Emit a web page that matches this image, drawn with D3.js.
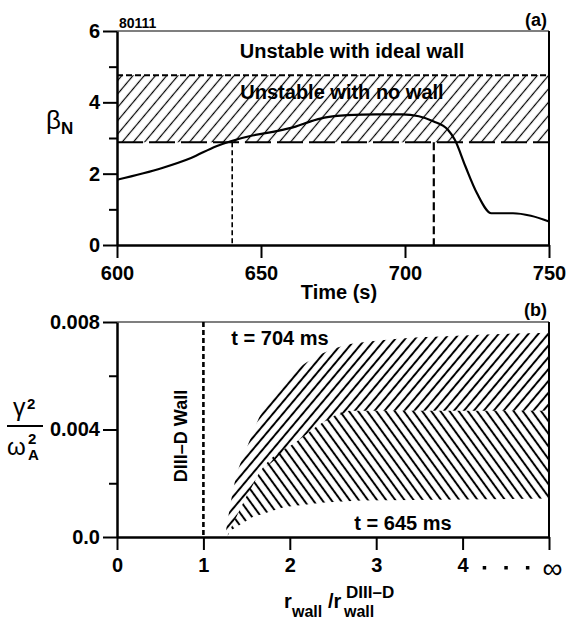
<!DOCTYPE html>
<html>
<head>
<meta charset="utf-8">
<style>
  body { margin: 0; background: #fff; }
  text { font-family: "Liberation Sans", Arial, sans-serif; font-weight: bold; fill: #000; }
</style>
</head>
<body>
<script src="https://cdn.jsdelivr.net/npm/d3@7"></script>
<script>
// ---- panel (a): beta_N vs time, shot 80111
var timeA = [600, 615.7, 625.7, 634.5, 639.5, 647, 654.6, 662, 667, 672, 680, 690, 699, 704.8, 709.8, 714.9, 717.3, 721, 725, 730, 737.5, 743.7, 750];
var betaA = [1.83, 2.16, 2.44, 2.77, 2.91, 3.07, 3.18, 3.32, 3.46, 3.57, 3.64, 3.66, 3.66, 3.61, 3.47, 3.23, 2.95, 2.2, 1.45, 0.89, 0.89, 0.82, 0.66];
var noWallLimit = 2.88;
var idealWallLimit = 4.76;
var markTimes = [640, 710];
var xTicksA = [600, 650, 700, 750];
var yTicksA = [0, 2, 4, 6];
var yMinorA = [1, 3, 5];

// ---- panel (b): growth rate vs wall radius
var r704 = [1.25, 1.36, 1.5, 1.7, 2.0, 2.3, 2.6, 3.0, 4.0, 5.0];
var g704 = [0, 0.002, 0.0033, 0.0048, 0.006, 0.0067, 0.0071, 0.0073, 0.0075, 0.0076];
var rMid = [1.27, 1.45, 1.65, 2.1, 2.4, 2.7, 5.0];
var gMid = [0, 0.0012, 0.0024, 0.0036, 0.0043, 0.0047, 0.0047];
var r645 = [1.27, 1.32, 1.57, 1.94, 2.4, 2.82, 4.0, 5.0];
var g645 = [0, 0.00025, 0.00074, 0.00112, 0.00128, 0.00136, 0.0014, 0.00143];
var wallR = 1;
var xTicksB = [0, 1, 2, 3, 4, 5];
var yTicksB = [0, 0.004, 0.008];
var yMinorB = [0.002, 0.006];
var gapDots = [4.25, 4.5, 4.75];

var svg = d3.select("body").append("svg").attr("width", 566).attr("height", 624);

var defs = svg.append("defs");
function hatch(id, angle, space, w) {
    var p = defs.append("pattern").attr("id", id)
        .attr("patternUnits", "userSpaceOnUse")
        .attr("width", space).attr("height", 10)
        .attr("patternTransform", "rotate(" + angle + ")");
    p.append("line").attr("x1", space / 2).attr("x2", space / 2)
        .attr("y1", -1).attr("y2", 11)
        .attr("stroke", "#000").attr("stroke-width", w);
}
hatch("hA", 40, 8.6, 1.2);
hatch("hB1", 40, 7.6, 2);
hatch("hB2", -36, 7.4, 2);

function styleAxis(g, w) {
    g.select(".domain").attr("stroke-width", w);
    g.selectAll(".tick line").attr("stroke-width", 2);
    g.selectAll("text").style("font-size", "20px").style("font-family", "Liberation Sans, Arial, sans-serif").style("font-weight", "bold");
}

// ================= panel a =================
var xA = d3.scaleLinear().domain([600, 750]).range([117, 549]);
var yA = d3.scaleLinear().domain([0, 6]).range([245, 31]);

// hatched band
svg.append("rect")
    .attr("x", xA(600)).attr("width", xA(750) - xA(600))
    .attr("y", yA(idealWallLimit)).attr("height", yA(noWallLimit) - yA(idealWallLimit))
    .attr("fill", "url(#hA)");
svg.append("line").attr("x1", xA(600)).attr("x2", xA(750))
    .attr("y1", yA(idealWallLimit)).attr("y2", yA(idealWallLimit))
    .attr("stroke", "#000").attr("stroke-width", 2).attr("stroke-dasharray", "6,3");
svg.append("line").attr("x1", xA(600)).attr("x2", xA(750))
    .attr("y1", yA(noWallLimit)).attr("y2", yA(noWallLimit))
    .attr("stroke", "#000").attr("stroke-width", 2).attr("stroke-dasharray", "26,6");

// frame top/right
svg.append("line").attr("x1", xA(600)).attr("x2", xA(750)).attr("y1", yA(6)).attr("y2", yA(6))
    .attr("stroke", "#000").attr("stroke-width", 1.2);
svg.append("line").attr("x1", xA(750)).attr("x2", xA(750)).attr("y1", yA(6)).attr("y2", yA(0))
    .attr("stroke", "#000").attr("stroke-width", 2);

// marker lines
svg.selectAll(".mark").data(markTimes).enter().append("line")
    .attr("x1", d => xA(d)).attr("x2", d => xA(d))
    .attr("y1", yA(noWallLimit)).attr("y2", yA(0))
    .attr("stroke", "#000")
    .attr("stroke-width", (d, i) => i === 0 ? 1.6 : 2.2)
    .attr("stroke-dasharray", (d, i) => i === 0 ? "5,3" : "8,4");

// beta curve
var lineA = d3.line().x((d, i) => xA(timeA[i])).y(d => yA(d)).curve(d3.curveMonotoneX);
svg.append("path").attr("d", lineA(betaA))
    .attr("fill", "none").attr("stroke", "#000").attr("stroke-width", 2.2);

var gyA = svg.append("g").attr("transform", "translate(117,0)")
    .call(d3.axisLeft(yA).tickValues(yTicksA).tickSize(14).tickSizeOuter(0).tickPadding(3).tickFormat(d3.format("d")));
styleAxis(gyA, 2.5);
svg.append("g").attr("transform", "translate(117,0)")
    .call(d3.axisLeft(yA).tickValues(yMinorA).tickSize(8).tickFormat(""))
    .call(g => { g.select(".domain").remove(); g.selectAll("line").attr("stroke-width", 2); });
var gxA = svg.append("g").attr("transform", "translate(0,245)")
    .call(d3.axisBottom(xA).tickValues(xTicksA).tickSize(13).tickSizeOuter(0).tickPadding(8));
styleAxis(gxA, 2.5);

svg.append("text").attr("x", 119).attr("y", 28).style("font-size", "14px").text("80111");
svg.append("text").attr("x", 547).attr("y", 26).attr("text-anchor", "end").style("font-size", "18px").text("(a)");
svg.append("text").attr("x", 352).attr("y", 58).attr("text-anchor", "middle").style("font-size", "20px").text("Unstable with ideal wall");
svg.append("text").attr("x", 342).attr("y", 99).attr("text-anchor", "middle").style("font-size", "20px").text("Unstable with no wall");
svg.append("text").attr("x", 339).attr("y", 299).attr("text-anchor", "middle").style("font-size", "20px").text("Time (s)");
svg.append("text").attr("x", 46).attr("y", 129).style("font-size", "26px").style("font-weight", "normal").text("β");
svg.append("text").attr("x", 61).attr("y", 134).style("font-size", "17px").text("N");

// ================= panel b =================
var xB = d3.scaleLinear().domain([0, 5]).range([117, 549]);
var yB = d3.scaleLinear().domain([0, 0.008]).range([537, 322]);

var lineB = d3.line().x(d => xB(d[0])).y(d => yB(d[1])).curve(d3.curveMonotoneX);
function zip(xs, ys) { return xs.map((x, i) => [x, ys[i]]); }
function region(top, bottom) {
    var a = lineB(top);
    var bl = d3.line().x(d => xB(d[0])).y(d => yB(d[1]))(bottom.slice().reverse());
    return a + bl.replace(/^M/, "L") + "Z";
}
var up = zip(r704, g704), mid = zip(rMid, gMid), low = zip(r645, g645);
svg.append("path").attr("d", region(up, mid)).attr("fill", "url(#hB1)");
svg.append("path").attr("d", region(mid, low)).attr("fill", "url(#hB2)");

// frame
svg.append("line").attr("x1", xB(0)).attr("x2", xB(5)).attr("y1", yB(0.008)).attr("y2", yB(0.008))
    .attr("stroke", "#000").attr("stroke-width", 1.2);
svg.append("line").attr("x1", xB(5)).attr("x2", xB(5)).attr("y1", yB(0.008)).attr("y2", yB(0))
    .attr("stroke", "#000").attr("stroke-width", 2);

// DIII-D wall line
svg.append("line").attr("x1", xB(wallR)).attr("x2", xB(wallR)).attr("y1", yB(0.008)).attr("y2", yB(0))
    .attr("stroke", "#000").attr("stroke-width", 2.6).attr("stroke-dasharray", "5,3");

var gyB = svg.append("g").attr("transform", "translate(117,0)")
    .call(d3.axisLeft(yB).tickValues(yTicksB).tickSize(14).tickSizeOuter(0).tickPadding(3)
        .tickFormat(d => d === 0 ? "0.0" : d3.format(".3f")(d)));
styleAxis(gyB, 2.5);
svg.append("g").attr("transform", "translate(117,0)")
    .call(d3.axisLeft(yB).tickValues(yMinorB).tickSize(8).tickFormat(""))
    .call(g => { g.select(".domain").remove(); g.selectAll("line").attr("stroke-width", 2); });
var gxB = svg.append("g").attr("transform", "translate(0,537)")
    .call(d3.axisBottom(xB).tickValues(xTicksB).tickSize(13).tickSizeOuter(0).tickPadding(8)
        .tickFormat(d => d === 5 ? "∞" : d));
styleAxis(gxB, 2.5);
gxB.selectAll(".tick").filter(d => d === 5).select("text")
    .attr("dx", 3).style("font-size", "28px").style("font-weight", "normal");

svg.selectAll(".gapdot").data(gapDots).enter().append("rect").attr("class", "gapdot")
    .attr("x", d => xB(d) - 1.5).attr("y", 566).attr("width", 3.5).attr("height", 3.5).attr("fill", "#000");

svg.append("text").attr("x", 547).attr("y", 316).attr("text-anchor", "end").style("font-size", "18px").text("(b)");
svg.append("text").attr("x", 280).attr("y", 345).attr("text-anchor", "middle").style("font-size", "20px").text("t = 704 ms");
svg.append("text").attr("x", 403).attr("y", 530).attr("text-anchor", "middle").style("font-size", "20px").text("t = 645 ms");
svg.append("text").attr("transform", "translate(187,436) rotate(-90)").attr("text-anchor", "middle")
    .style("font-size", "18px").text("DIII–D Wall");

// y label: gamma^2 / omega_A^2
svg.append("text").attr("x", 13).attr("y", 416).style("font-size", "25px").style("font-weight", "normal").text("γ");
svg.append("text").attr("x", 27).attr("y", 409).style("font-size", "15px").text("2");
svg.append("line").attr("x1", 7).attr("x2", 43).attr("y1", 426).attr("y2", 426).attr("stroke", "#000").attr("stroke-width", 2);
svg.append("text").attr("x", 7).attr("y", 455).style("font-size", "24px").style("font-weight", "normal").text("ω");
svg.append("text").attr("x", 28).attr("y", 444).style("font-size", "15px").text("2");
svg.append("text").attr("x", 28).attr("y", 460).style("font-size", "15px").text("A");

// x label: r_wall / r_wall^DIII-D
svg.append("text").attr("x", 284).attr("y", 608).style("font-size", "20px").text("r");
svg.append("text").attr("x", 292).attr("y", 617).style("font-size", "16px").text("wall");
svg.append("text").attr("x", 328).attr("y", 608).style("font-size", "20px").text("/r");
svg.append("text").attr("x", 344).attr("y", 617).style("font-size", "16px").text("wall");
svg.append("text").attr("x", 346).attr("y", 598).style("font-size", "17px").text("DIII–D");
</script>
</body>
</html>
